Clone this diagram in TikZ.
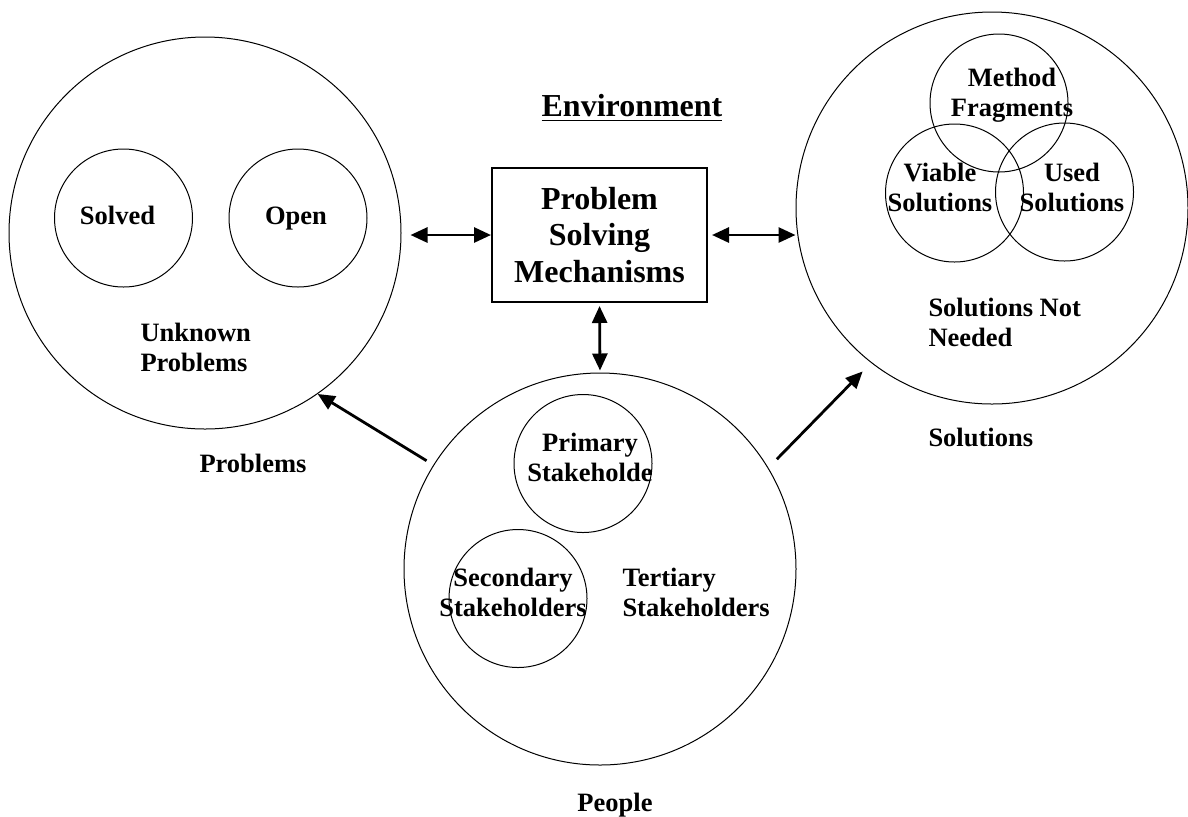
\documentclass[tikz,border=0pt]{standalone}
\usepackage{fontspec}
\setmainfont{Liberation Serif}
\usetikzlibrary{arrows.meta}

\begin{document}
\begin{tikzpicture}[
        x=0.5pt, y=-0.5pt,
        line width=0.5pt,
        every node/.style={font=\bfseries\fontsize{13.25}{15}\selectfont, align=center, inner sep=0pt},
        >={Triangle[length=8.5pt, width=7.5pt]},
        bigring/.style={draw, circle, minimum size=196pt},
        smallring/.style={draw, circle, minimum size=69pt},
        bigtext/.style={font=\bfseries\fontsize{16}{18.25}\selectfont},
        link/.style={->, line width=1.4pt},
        dlink/.style={<->, line width=1.4pt}
    ]
    \useasboundingbox (0,0) rectangle (1188,816);

    % Problems
    \node[bigring] (problems) at (205,233) {};
    \node[smallring] (solved) at (123.5,218) {};
    \node[smallring] (open) at (298,218) {};
    \node (solvedtxt) at (117.5,215) {Solved};
    \node (opentxt) at (296,219) {Open};
    \node[anchor=west, align=left] (unknown) at (140,347) {Unknown\\Problems};
    \node (problemslbl) at (253,463) {Problems};

    % Mechanisms
    \node[bigtext] (env) at (632,108) {\underline{Environment}};
    \node[draw, bigtext, line width=1pt, minimum width=107.5pt, minimum height=67pt] (psm) at (599.5,235)
        {Problem\\Solving\\Mechanisms};

    % Solutions
    \node[bigring] (solutions) at (992,208) {};
    \node[smallring] (method) at (999,103) {};
    \node[smallring] (viable) at (954.5,193) {};
    \node[smallring] (used) at (1064.5,192) {};
    \node (methodtxt) at (1012,95) {Method\\Fragments};
    \node (viabletxt) at (940,187) {Viable\\Solutions};
    \node (usedtxt) at (1072,187) {Used\\Solutions};
    \node[anchor=west, align=left] (notneeded) at (928,322) {Solutions Not\\Needed};
    \node[anchor=west] (solutionslbl) at (928,437) {Solutions};

    % People
    \node[bigring] (people) at (600,569) {};
    \node[smallring] (primary) at (583,463.5) {};
    \node[smallring] (secondary) at (518,598.5) {};
    \node (primarytxt) at (590,457) {Primary\\Stakeholde};
    \node (secondarytxt) at (513,592) {Secondary\\Stakeholders};
    \node[anchor=west, align=left] (tertiary) at (622,592) {Tertiary\\Stakeholders};
    \node (peoplelbl) at (615,805) {People};

    % Connectors
    \draw[dlink, shorten <=4.5pt] (problems.east |- psm.west) -- (psm.west);
    \draw[dlink, shorten <=2pt] (psm.east) -- (solutions.west |- psm.east);
    \draw[dlink, shorten <=1.5pt, shorten >=1pt] (psm.south) -- (people.north);
    \draw[link, shorten <=4pt] (people.148) -- (problems.-55);
    \draw[link, shorten <=6pt, shorten >=6pt] (people.31) -- (solutions.-128);

\end{tikzpicture}
\end{document}
